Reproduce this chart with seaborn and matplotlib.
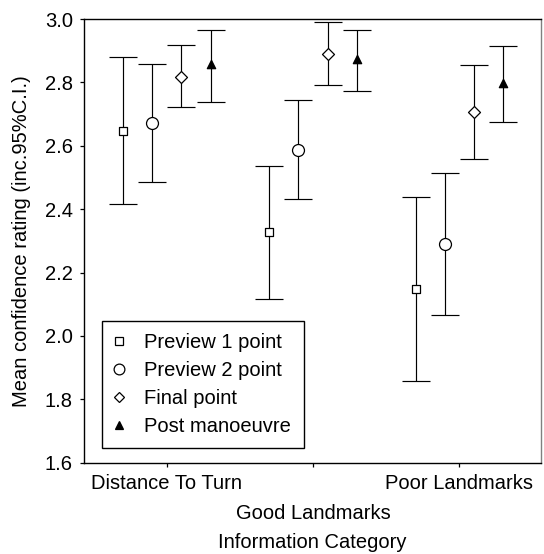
import matplotlib
matplotlib.use("Agg")
import matplotlib.pyplot as plt
import seaborn as sns
import pandas as pd
from matplotlib.lines import Line2D

# Mean confidence ratings with 95% confidence limits
categories = ["Distance To Turn", "Good Landmarks", "Poor Landmarks"]
series = ["Preview 1 point", "Preview 2 point", "Final point", "Post manoeuvre"]

preview1_mean = [2.647, 2.327, 2.147]
preview1_low = [2.416, 2.115, 1.857]
preview1_high = [2.881, 2.537, 2.437]

preview2_mean = [2.671, 2.587, 2.289]
preview2_low = [2.485, 2.431, 2.065]
preview2_high = [2.857, 2.743, 2.513]

final_mean = [2.817, 2.890, 2.707]
final_low = [2.721, 2.792, 2.557]
final_high = [2.917, 2.990, 2.854]

post_mean = [2.857, 2.873, 2.797]
post_low = [2.737, 2.773, 2.674]
post_high = [2.964, 2.964, 2.915]

tick_labels = ["Distance To Turn", "\nGood Landmarks", "Poor Landmarks"]

means = [preview1_mean, preview2_mean, final_mean, post_mean]
lows = [preview1_low, preview2_low, final_low, post_low]
highs = [preview1_high, preview2_high, final_high, post_high]

rows = []
for s, m, lo, hi in zip(series, means, lows, highs):
    for c, mv, lv, hv in zip(categories, m, lo, hi):
        rows.append({"category": c, "series": s, "mean": mv, "low": lv, "high": hv})
df = pd.DataFrame(rows)

offsets = {s: o for s, o in zip(series, [-0.3, -0.1, 0.1, 0.3])}
df["x"] = df["category"].map({c: i for i, c in enumerate(categories)}) + df["series"].map(offsets)

styles = {
    "Preview 1 point": dict(marker="s", size=5.8, face="white"),
    "Preview 2 point": dict(marker="o", size=8.6, face="white"),
    "Final point": dict(marker="D", size=6.1, face="white"),
    "Post manoeuvre": dict(marker="^", size=6.0, face="black"),
}

sns.set_style("ticks")
plt.rcParams["font.family"] = ["Liberation Sans", "DejaVu Sans"]
plt.rcParams["font.size"] = 14.5
plt.rcParams["text.color"] = "black"
plt.rcParams["axes.labelcolor"] = "black"
plt.rcParams["xtick.color"] = "black"
plt.rcParams["ytick.color"] = "black"

FS = 14.5

fig = plt.figure(figsize=(5.44, 5.54), dpi=100)
ax = fig.add_axes([0.1544, 0.1648, 0.8396, 0.8009])

for s in series:
    sub = df[df["series"] == s]
    ax.errorbar(sub["x"], sub["mean"],
                yerr=[sub["mean"] - sub["low"], sub["high"] - sub["mean"]],
                fmt="none", ecolor="black", elinewidth=0.85,
                capsize=10.4, capthick=0.85, zorder=2)

for s in series:
    sub = df[df["series"] == s]
    st = styles[s]
    sns.scatterplot(data=sub, x="x", y="mean", marker=st["marker"],
                    s=st["size"] ** 2, facecolor=st["face"], edgecolor="black",
                    linewidth=0.9, ax=ax, zorder=3, legend=False)

ax.set_xlim(-0.565, 2.555)
ax.set_ylim(1.6, 3.0)
yt = [1.6, 1.8, 2.0, 2.2, 2.4, 2.6, 2.8, 3.0]
ax.set_yticks(yt)
ax.set_yticklabels([f"{v:.1f}" for v in yt])
ax.set_xticks(range(len(categories)))
ax.set_xticklabels(tick_labels)
for lbl in ax.get_xticklabels():
    lbl.set_linespacing(1.75)

ax.tick_params(axis="both", direction="out", length=3, width=0.9, colors="black",
               labelcolor="black", labelsize=FS, pad=5)
ax.tick_params(axis="x", pad=5)

for side in ["left", "bottom", "top"]:
    ax.spines[side].set_visible(True)
    ax.spines[side].set_color("black")
    ax.spines[side].set_linewidth(1.0)
ax.spines["right"].set_visible(True)
ax.spines["right"].set_color("#808080")
ax.spines["right"].set_linewidth(1.0)

ax.set_ylabel("Mean confidence rating (inc.95%C.I.)", fontsize=FS, labelpad=10,
              color="black")
ax.set_xlabel("Information Category", fontsize=FS, labelpad=7, color="black")

handles = [
    Line2D([], [], linestyle="none", marker=styles[s]["marker"],
           markersize=styles[s]["size"] * 0.9, markerfacecolor=styles[s]["face"],
           markeredgecolor="black", markeredgewidth=0.9, label=s)
    for s in series
]
leg = ax.legend(handles=handles, loc="lower left", bbox_to_anchor=(0.0388, 0.0325),
                borderaxespad=0, frameon=True, fancybox=False, framealpha=1,
                edgecolor="black", fontsize=FS, labelspacing=0.44,
                handlelength=0.5, handletextpad=1.0, borderpad=0.62)
leg.get_frame().set_linewidth(1.0)
for t in leg.get_texts():
    t.set_color("black")

fig.savefig("out.png", dpi=100)
